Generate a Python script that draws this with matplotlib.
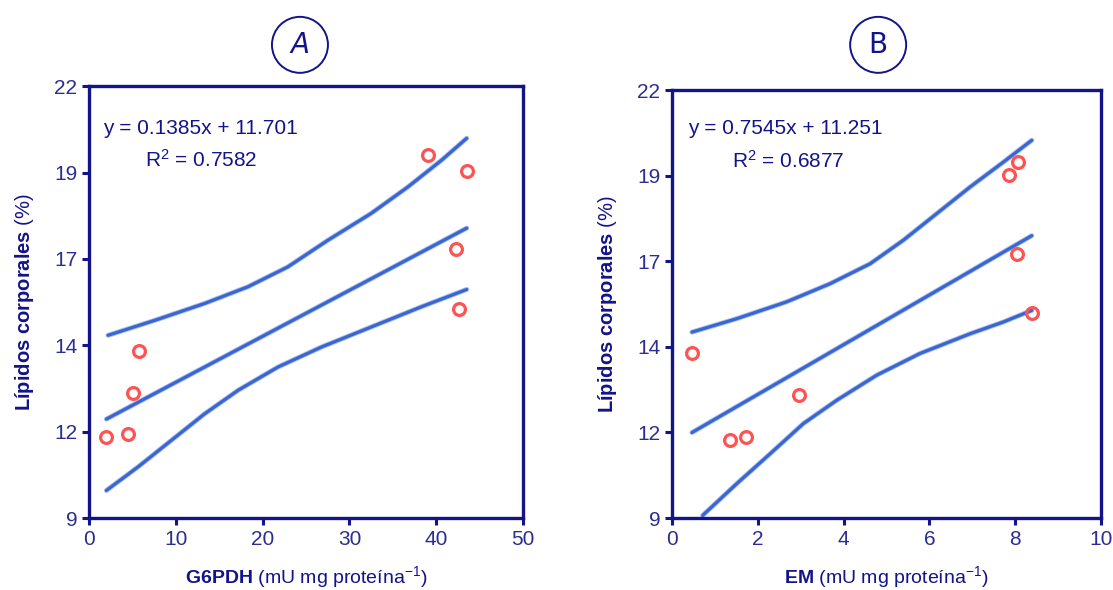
import matplotlib.pyplot as plt
import matplotlib.patheffects as pe
import numpy as np
from matplotlib.patches import Ellipse

plt.rcParams["font.family"] = ["Liberation Sans", "DejaVu Sans"]
plt.rcParams["mathtext.fontset"] = "custom"
plt.rcParams["mathtext.rm"] = "Liberation Sans"
plt.rcParams["mathtext.bf"] = "Liberation Sans:bold"
plt.rcParams["mathtext.it"] = "Liberation Sans:italic"
plt.rcParams["lines.solid_joinstyle"] = "round"
plt.rcParams["lines.solid_capstyle"] = "round"

NAVY = "#13138a"
TICKC = "#2d2d90"
LINEC = "#3a66d2"
HALO = "#a9bdee"
DOTC = "#ff5252"

## Panel A: G6PDH vs body lipids
g6pdh_x = [1.92, 4.49, 5.07, 5.76, 39.05, 43.55, 42.3, 42.6]
g6pdh_y = [11.44, 11.54, 12.77, 14.03, 19.92, 19.45, 17.09, 15.29]
g6pdh_fit = (0.1385, 11.701, 0.7582)
g6pdh_fit_x = [2.0, 43.5]
g6pdh_up_x = [2.19, 7.57, 13.33, 18.3, 22.9, 27.5, 32.5, 36.75, 40.6, 43.5]
g6pdh_up_y = [14.5, 14.95, 15.46, 15.96, 16.56, 17.36, 18.17, 18.97, 19.77, 20.43]
g6pdh_lo_x = [2.0, 5.65, 9.49, 13.33, 17.2, 21.8, 26.8, 32.5, 38.3, 43.5]
g6pdh_lo_y = [9.83, 10.54, 11.34, 12.14, 12.85, 13.55, 14.15, 14.75, 15.36, 15.88]

## Panel B: EM vs body lipids
em_x = [0.46, 1.35, 1.72, 2.95, 8.39, 7.85, 8.08, 8.05]
em_y = [14.02, 11.38, 11.46, 12.73, 15.23, 19.42, 19.82, 17.02]
em_fit = (0.7545, 11.251, 0.6877)
em_fit_x = [0.46, 8.39]
em_up_x = [0.46, 1.51, 2.67, 3.68, 4.62, 5.39, 6.17, 6.95, 7.73, 8.39]
em_up_y = [14.65, 15.06, 15.57, 16.12, 16.73, 17.44, 18.25, 19.06, 19.82, 20.48]
em_lo_x = [0.71, 1.51, 2.29, 3.06, 3.84, 4.77, 5.78, 6.95, 7.73, 8.39]
em_lo_y = [9.08, 10.05, 10.96, 11.87, 12.58, 13.34, 14.0, 14.6, 14.96, 15.31]

y_ticks = np.linspace(9, 22, 6)
y_labels = ["9", "12", "14", "17", "19", "22"]

fig = plt.figure(figsize=(11.13, 5.9), dpi=100)

panels = [
    dict(rect=[0.080, 0.122, 0.390, 0.732], x=g6pdh_x, y=g6pdh_y, fit=g6pdh_fit,
         fit_x=g6pdh_fit_x, up=(g6pdh_up_x, g6pdh_up_y), lo=(g6pdh_lo_x, g6pdh_lo_y),
         xlim=(0, 50), xticks=[0, 10, 20, 30, 40, 50], name="G6PDH", letter="A",
         eq_pos=(0.032, 0.903), r2_pos=(0.129, 0.829), cx=0.2695),
    dict(rect=[0.604, 0.122, 0.385, 0.725], x=em_x, y=em_y, fit=em_fit,
         fit_x=em_fit_x, up=(em_up_x, em_up_y), lo=(em_lo_x, em_lo_y),
         xlim=(0, 10), xticks=[0, 2, 4, 6, 8, 10], name="EM", letter="B",
         eq_pos=(0.037, 0.911), r2_pos=(0.14, 0.836), cx=0.789),
]

soft = [pe.Stroke(linewidth=3.6, foreground=HALO), pe.Normal()]

for p in panels:
    ax = fig.add_axes(p["rect"])
    slope, icpt, r2 = p["fit"]
    fx = np.array(p["fit_x"])
    ax.plot(fx, slope * fx + icpt, color=LINEC, lw=2.3, path_effects=soft)
    ax.plot(*p["up"], color=LINEC, lw=2.3, path_effects=soft)
    ax.plot(*p["lo"], color=LINEC, lw=2.3, path_effects=soft)
    ax.plot(p["x"], p["y"], "o", mfc="none", mec=DOTC, mew=2.3, ms=8.5)

    ax.set_xlim(*p["xlim"])
    ax.set_ylim(9, 22)
    ax.set_xticks(p["xticks"])
    ax.set_yticks(y_ticks)
    ax.set_yticklabels(y_labels)
    for s in ax.spines.values():
        s.set_color(NAVY)
        s.set_linewidth(2.4)
    ax.tick_params(colors=NAVY, labelcolor=TICKC, width=2.2, length=5,
                   labelsize=15, direction="out")
    for lab in ax.get_xticklabels() + ax.get_yticklabels():
        lab.set_clip_on(False)

    ax.text(*p["eq_pos"], f"y = {slope}x + {icpt}", transform=ax.transAxes,
            fontsize=15, color=NAVY, va="center")
    ax.text(*p["r2_pos"], f"R$^2$ = {r2}", transform=ax.transAxes,
            fontsize=15, color=NAVY, va="center")

    ax.set_xlabel(r"$\mathbf{" + p["name"] + r"}$ (mU mg proteína$^{-1}$)",
                  fontsize=14, color=NAVY, labelpad=11)
    ax.set_ylabel(r"$\mathbf{Lípidos\ corporales}$ (%)", fontsize=14.5,
                  color=NAVY, labelpad=13)

    # circled panel letter above the plot
    fig.patches.append(Ellipse((p["cx"], 0.924), 56 / 1113, 56 / 590,
                               transform=fig.transFigure, fill=False,
                               ec=NAVY, lw=1.4))
    fig.text(p["cx"], 0.924, p["letter"], ha="center", va="center", fontsize=20,
             color=NAVY, style="italic" if p["letter"] == "A" else "normal",
             family=["DejaVu Sans"])

fig.savefig("out.png", dpi=100)
